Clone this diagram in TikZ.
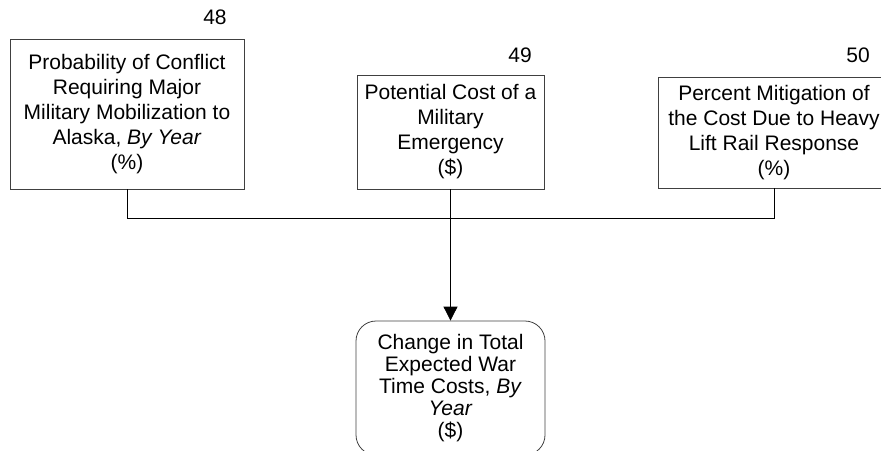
\documentclass[tikz,border=0pt]{standalone}
\usepackage{fontspec}
\setmainfont{Liberation Sans}
\usetikzlibrary{arrows.meta}
\begin{document}
\begin{tikzpicture}[x=1pt, y=-1pt,
		varbox/.style={draw=black!75, line width=0.8pt, align=center, inner sep=0pt, font=\fontsize{21}{25}\selectfont},
		outbox/.style={varbox, rounded corners=20pt, font=\fontsize{21}{22}\selectfont},
		numlabel/.style={font=\fontsize{21}{24}\selectfont},
		link/.style={draw=black, line width=0.8pt}]
		\useasboundingbox (0,0) rectangle (881,450);
		\clip (0,0) rectangle (881,450);
		
		% variabili in ingresso
		\node[varbox, minimum width=234pt, minimum height=150pt] (prob) at (127,114) {Probability of Conflict\\Requiring Major\\Military Mobilization to\\Alaska, \textit{By Year}\\(\%)};
		\node[varbox, minimum width=187pt, minimum height=114pt] (cost) at (450.5,132) {Potential Cost of a\\Military\\Emergency\\(\$)};
		\node[varbox, minimum width=232pt, minimum height=111pt] (mitig) at (774,132.5) {Percent Mitigation of\\the Cost Due to Heavy\\Lift Rail Response\\(\%)};
		
		% numeri
		\node[numlabel] (n48) at (215,17) {48};
		\node[numlabel] (n49) at (520,55) {49};
		\node[numlabel] (n50) at (858,55) {50};
		
		% variabile in uscita
		\node[outbox, minimum width=189pt, minimum height=134pt] (change) at (450.5,388) {Change in Total\\Expected War\\Time Costs, \textit{By}\\\textit{Year}\\(\$)};
		
		% collegamenti
		\coordinate (junc) at (450.5,218.5);
		\draw[link] (prob.south) |- (junc) -| (mitig.south);
		\draw[link, -{Triangle[length=14pt, width=14pt]}] (cost.south) -- (change.north);
		
	\end{tikzpicture}
\end{document}
